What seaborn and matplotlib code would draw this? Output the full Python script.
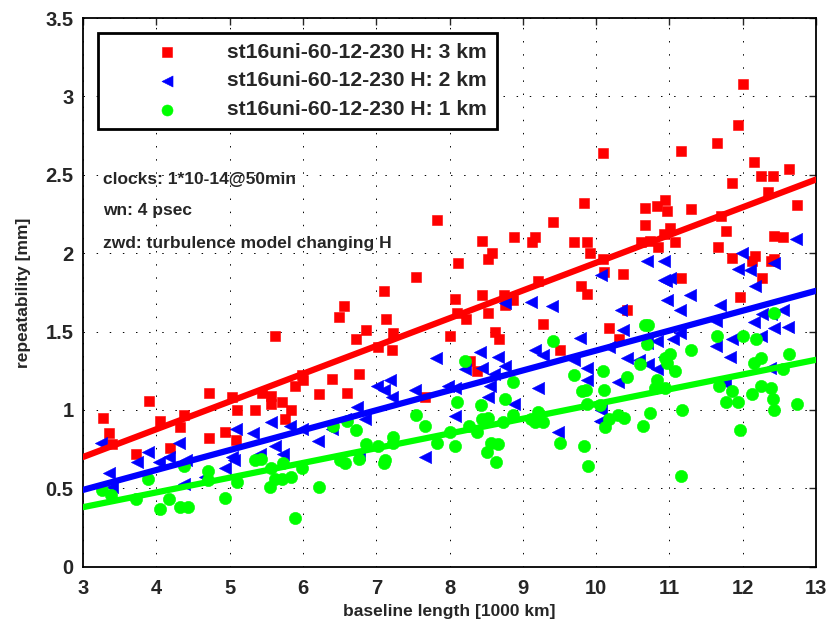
import numpy as np
import pandas as pd
import matplotlib
matplotlib.use('Agg')
import matplotlib.pyplot as plt
import seaborn as sns

# repeatability [mm] against baseline length [1000 km]
h3_x = [3.27, 3.35, 3.40, 3.72, 3.90, 4.05, 4.18, 4.32, 4.38, 4.72, 4.72, 4.94, 5.03, 5.09, 5.10,
        5.34, 5.44, 5.56, 5.56, 5.62, 5.72, 5.84, 5.75, 5.89, 6.00, 5.99, 6.40, 6.77, 6.22, 6.60,
        7.67, 6.56, 6.49, 7.13, 6.86, 6.72, 7.23, 7.02, 7.22, 7.10, 8.08, 8.10, 8.00, 7.83, 7.54,
        10.10, 9.84, 9.41, 8.88, 8.44, 9.17, 9.12, 9.70, 9.87, 8.58, 8.52, 8.11, 9.91, 10.09, 10.11,
        10.37, 10.61, 10.67, 10.67, 9.21, 9.79, 8.44, 8.74, 8.87, 8.76, 8.22, 8.52, 8.62, 8.67, 9.27,
        9.51, 8.38, 8.28, 9.87, 10.17, 10.31, 10.42, 12.01, 11.93, 11.65, 11.16, 12.15, 12.63, 12.25,
        12.41, 11.86, 12.35, 12.74, 10.83, 10.94, 10.96, 11.29, 11.70, 11.01, 10.92, 11.77, 10.74,
        10.85, 11.07, 11.66, 12.43, 12.55, 11.85, 12.17, 12.12, 12.42, 12.39, 12.26, 11.16, 11.96]
h3_y = [0.95, 0.85, 0.78, 0.72, 1.06, 0.93, 0.76, 0.89, 0.97, 1.11, 0.82, 0.86, 1.08, 0.81, 1.00,
        1.00, 1.11, 1.09, 1.04, 1.47, 1.05, 1.00, 0.94, 1.15, 1.19, 1.22, 1.20, 1.23, 1.10, 1.11,
        1.08, 1.66, 1.59, 1.58, 1.51, 1.45, 1.49, 1.40, 1.38, 1.76, 1.71, 1.62, 1.47, 2.21, 1.85,
        2.64, 2.32, 2.20, 2.10, 2.08, 2.10, 2.07, 2.07, 2.07, 2.00, 1.96, 1.94, 2.00, 1.96, 1.88,
        1.87, 2.07, 2.29, 2.18, 1.82, 1.79, 1.73, 1.73, 1.70, 1.67, 1.58, 1.62, 1.50, 1.45, 1.55,
        1.38, 1.25, 1.31, 1.74, 1.52, 1.45, 1.64, 3.08, 2.82, 2.70, 2.65, 2.58, 2.54, 2.49,
        2.49, 2.45, 2.39, 2.31, 2.30, 2.34, 2.27, 2.28, 2.24, 2.16, 2.12, 2.14, 2.08,
        2.04, 2.07, 2.04, 2.11, 2.10, 1.97, 1.98, 1.95, 1.96, 1.95, 1.84, 1.84, 1.72]

h2_x = [3.25, 3.35, 3.39, 3.73, 3.88, 4.03, 4.17, 4.31, 4.40, 4.38, 4.66, 4.94, 5.08, 5.03, 5.06,
        5.32, 5.42, 5.56, 5.62, 5.82, 5.98, 6.21, 6.39, 6.57, 6.74, 6.84, 7.01, 7.11, 7.19, 7.21,
        7.53, 7.81, 7.98, 8.08, 7.66, 5.73, 6.76, 8.75, 9.11, 9.40, 8.42, 8.66, 9.16, 9.27, 9.78,
        8.21, 8.44, 8.75, 8.61, 8.08, 8.55, 8.53, 8.88, 9.20, 9.70, 9.87, 9.87, 9.48, 10.05, 10.07,
        10.37, 10.42, 10.30, 10.17, 10.34, 10.58, 10.95, 10.96, 11.28, 11.14, 11.69, 12.17, 10.69,
        10.83, 11.05, 11.14, 11.64, 11.64, 11.85, 11.83, 12.15, 12.26, 12.38, 12.55, 12.42, 12.62,
        12.25, 10.71, 10.83, 10.92, 12.37, 11.76, 10.70, 10.93, 10.92, 11.01, 11.99, 11.93, 12.10,
        12.42, 12.73, 10.07]
h2_y = [0.79, 0.60, 0.51, 0.67, 0.73, 0.67, 0.70, 0.79, 0.68, 0.53, 0.57, 0.63, 0.88, 0.70, 0.68,
        0.85, 0.72, 0.92, 0.77, 0.90, 0.88, 0.80, 0.88, 0.94, 1.02, 0.94, 1.15, 1.13, 1.19, 1.08,
        1.13, 1.33, 1.15, 0.96, 0.70, 0.72, 0.72, 1.68, 1.69, 1.66, 1.37, 1.34, 1.38, 1.35, 1.46,
        1.26, 1.27, 1.28, 1.23, 1.14, 1.15, 1.08, 1.04, 1.14, 1.32, 1.27, 1.19, 0.86, 0.93, 1.00,
        1.51, 1.33, 1.18, 1.40, 1.64, 1.32, 1.82, 1.70, 1.73, 1.64, 1.67, 1.79, 1.43,
        1.44, 1.45, 1.49, 1.57, 1.41, 1.45, 1.34, 1.56, 1.61, 1.61, 1.64, 1.52, 1.53,
        1.47, 1.29, 1.26, 1.34, 1.27, 1.17, 1.95, 1.95, 1.83, 1.84, 2.00, 1.90, 1.89,
        1.94, 2.09, 1.86]

h1_x = [3.26, 3.38, 3.72, 3.89, 4.05, 4.17, 4.32, 4.43, 4.38, 4.71, 4.71, 4.94, 5.10, 5.35, 5.43,
        5.56, 5.55, 5.73, 5.98, 5.62, 5.71, 5.83, 6.22, 5.89, 6.41, 6.60, 6.72, 6.51, 6.57, 6.77,
        6.86, 7.02, 7.12, 7.11, 7.23, 7.23, 7.54, 7.67, 7.83, 8.00, 8.08, 8.10, 8.21, 8.26, 8.37,
        8.43, 8.44, 8.52, 8.73, 8.76, 8.86, 8.87, 8.57, 8.66, 8.51, 8.63, 9.11, 9.20, 9.17, 9.27,
        9.41, 9.51, 9.70, 9.80, 9.86, 9.87, 9.83, 9.89, 10.05, 10.09, 10.11, 10.12, 10.17, 10.30,
        10.38, 10.42, 10.60, 10.64, 10.67, 10.71, 10.70, 11.01, 10.94, 10.96, 11.29, 11.07, 10.83,
        10.80, 10.94, 10.74, 11.17, 11.16, 11.65, 12.00, 12.18, 12.43, 12.63, 12.15, 12.25, 12.55,
        11.67, 11.85, 11.77, 11.94, 12.12, 12.25, 12.39, 12.41, 12.43, 12.74, 11.96]
h1_y = [0.49, 0.46, 0.43, 0.56, 0.37, 0.43, 0.38, 0.38, 0.64, 0.61, 0.55, 0.44, 0.54, 0.68, 0.69,
        0.63, 0.51, 0.66, 0.63, 0.56, 0.56, 0.57, 0.51, 0.31, 0.90, 0.93, 0.87, 0.68, 0.66, 0.69,
        0.78, 0.77, 0.68, 0.66, 0.83, 0.79, 0.97, 0.90, 0.79, 0.86, 0.77, 1.05, 1.31, 0.90, 0.86,
        1.03, 0.94, 0.95, 0.92, 1.07, 1.18, 0.97, 0.79, 0.78, 0.73, 0.67, 0.94, 0.99, 0.92, 0.92,
        1.44, 0.79, 1.22, 1.12, 1.13, 1.04, 0.77, 0.64, 1.03, 1.25, 1.13, 0.89, 0.94, 0.97,
        0.95, 1.21, 1.29, 0.90, 1.54, 1.54, 1.42, 1.36, 1.33, 1.30, 1.38, 1.25, 1.19,
        1.14, 1.14, 0.98, 1.00, 0.58, 1.47, 1.47, 1.45, 1.62, 1.36, 1.30, 1.33, 1.26,
        1.15, 1.12, 1.05, 1.05, 1.10, 1.15, 1.14, 1.07, 1.00, 1.04, 0.87]

# fitted lines, value at 3000 km and at 13000 km
fit_km = [3, 13]
fit_h3 = [0.70, 2.47]
fit_h2 = [0.49, 1.76]
fit_h1 = [0.38, 1.32]

labels = ['st16uni-60-12-230 H: 3 km', 'st16uni-60-12-230 H: 2 km', 'st16uni-60-12-230 H: 1 km']
colors = ['#ff0000', '#0000ff', '#00ff00']
markers = ['s', '<', 'o']
marker_sizes = [58, 78, 78]

notes = ['clocks: 1*10-14@50min', 'wn: 4 psec', 'zwd: turbulence model changing H']
note_y = [2.47, 2.27, 2.06]

series = [(h3_x, h3_y), (h2_x, h2_y), (h1_x, h1_y)]
fits = [fit_h3, fit_h2, fit_h1]

sns.set_style('white')
plt.rcParams['font.family'] = ['Liberation Sans', 'DejaVu Sans']
plt.rcParams['font.weight'] = 'bold'

fig = plt.figure(figsize=(8.31, 6.32), dpi=100)
ax = fig.add_axes([0.1, 0.1033, 0.882, 0.8682])

for (xs, ys), lab, c, m, s in zip(series, labels, colors, markers, marker_sizes):
    df = pd.DataFrame({'x': xs, 'y': ys})
    sns.scatterplot(data=df, x='x', y='y', ax=ax, marker=m, s=s, color=c,
                    edgecolor=c, linewidth=0.4, label=lab, zorder=3)

# linear fits across the whole axis
for fy, c in zip(fits, colors):
    sns.lineplot(x=fit_km, y=fy, ax=ax, color=c, lw=4.5, zorder=4, legend=False)

ax.set_xlim(3, 13)
ax.set_ylim(0, 3.5)
ax.set_xticks(range(3, 14))
ax.set_yticks(np.arange(0, 3.51, 0.5))
ax.set_yticklabels(['0', '0.5', '1', '1.5', '2', '2.5', '3', '3.5'])
ax.tick_params(direction='in', length=5, width=1, top=True, right=True, labelsize=14.5)
ax.tick_params(axis='x', pad=9)
ax.tick_params(axis='y', pad=7)
for lbl in ax.get_xticklabels() + ax.get_yticklabels():
    lbl.set_fontweight('bold')
ax.grid(True, color='black', linewidth=0.7, linestyle=(0, (1.5, 12)))
for sp in ax.spines.values():
    sp.set_color('black')
    sp.set_linewidth(1.3)

ax.set_xlabel('baseline length [1000 km]', fontsize=12.5, fontweight='bold', labelpad=4)
ax.set_ylabel('repeatability [mm]', fontsize=12.5, fontweight='bold', labelpad=10)

for txt, yy in zip(notes, note_y):
    ax.text(3.27, yy, txt, fontsize=12.5, fontweight='bold', va='center', ha='left')

leg = ax.legend(loc='upper left', bbox_to_anchor=(0.02, 0.973), borderaxespad=0,
                fontsize=15.2, frameon=True, fancybox=False, framealpha=1,
                handlelength=5.6, handletextpad=0.05, labelspacing=0.46,
                borderpad=0.47, scatterpoints=1, markerscale=0.9)
leg.get_frame().set_edgecolor('black')
leg.get_frame().set_linewidth(2)
for t in leg.get_texts():
    t.set_fontweight('bold')

fig.savefig('out.png', dpi=100)
